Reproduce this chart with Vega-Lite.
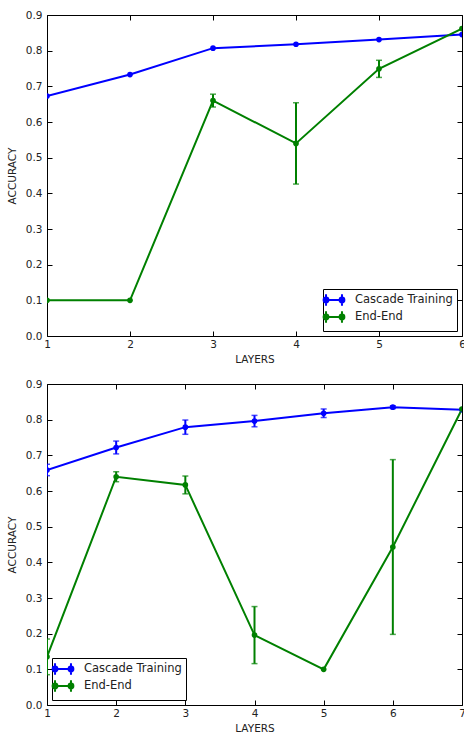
{
  "$schema": "https://vega.github.io/schema/vega-lite/v6.json",
  "padding": {"left": 6, "top": 9, "right": 0, "bottom": 5},
  "config": {
    "font": "DejaVu Sans",
    "view": {"stroke": "black", "strokeWidth": 1},
    "axis": {"grid": false, "domain": false, "tickColor": "black", "tickSize": -5, "tickWidth": 1, "labelFontSize": 10.5, "labelColor": "#222", "titleFontSize": 10.5, "titleFontWeight": "normal", "titleColor": "#222"},
    "axisX": {"labelPadding": 8},
    "axisY": {"labelPadding": 10}
  },
  "datasets": {
    "top": [
      {"layers": 1, "accuracy": 0.673, "err": 0, "series": "Cascade Training"},
      {"layers": 2, "accuracy": 0.733, "err": 0, "series": "Cascade Training"},
      {"layers": 3, "accuracy": 0.807, "err": 0, "series": "Cascade Training"},
      {"layers": 4, "accuracy": 0.818, "err": 0, "series": "Cascade Training"},
      {"layers": 5, "accuracy": 0.831, "err": 0, "series": "Cascade Training"},
      {"layers": 6, "accuracy": 0.845, "err": 0, "series": "Cascade Training"},
      {"layers": 1, "accuracy": 0.1, "err": 0, "series": "End-End"},
      {"layers": 2, "accuracy": 0.1, "err": 0, "series": "End-End"},
      {"layers": 3, "accuracy": 0.66, "err": 0.018, "series": "End-End"},
      {"layers": 4, "accuracy": 0.54, "err": 0.114, "series": "End-End"},
      {"layers": 5, "accuracy": 0.749, "err": 0.024, "series": "End-End"},
      {"layers": 6, "accuracy": 0.862, "err": 0, "series": "End-End"}
    ],
    "bottom": [
      {"layers": 1, "accuracy": 0.659, "err": 0.016, "series": "Cascade Training"},
      {"layers": 2, "accuracy": 0.722, "err": 0.018, "series": "Cascade Training"},
      {"layers": 3, "accuracy": 0.779, "err": 0.02, "series": "Cascade Training"},
      {"layers": 4, "accuracy": 0.796, "err": 0.016, "series": "Cascade Training"},
      {"layers": 5, "accuracy": 0.818, "err": 0.012, "series": "Cascade Training"},
      {"layers": 6, "accuracy": 0.835, "err": 0.004, "series": "Cascade Training"},
      {"layers": 7, "accuracy": 0.828, "err": 0, "series": "Cascade Training"},
      {"layers": 1, "accuracy": 0.135, "err": 0.05, "series": "End-End"},
      {"layers": 2, "accuracy": 0.64, "err": 0.014, "series": "End-End"},
      {"layers": 3, "accuracy": 0.617, "err": 0.025, "series": "End-End"},
      {"layers": 4, "accuracy": 0.196, "err": 0.08, "series": "End-End"},
      {"layers": 5, "accuracy": 0.1, "err": 0, "series": "End-End"},
      {"layers": 6, "accuracy": 0.443, "err": 0.245, "series": "End-End"},
      {"layers": 7, "accuracy": 0.83, "err": 0, "series": "End-End"}
    ]
  },
  "spacing": 12,
  "resolve": {"scale": {"color": "independent"}, "legend": {"color": "independent"}},
  "vconcat": [
    {
      "data": {"name": "top"},
      "width": 415,
      "height": 321,
      "layer": [
        {
          "transform": [{"filter": "datum.err > 0"}],
          "mark": {"type": "errorbar", "thickness": 2, "clip": true, "ticks": {"size": 6, "thickness": 1.5}},
          "encoding": {
            "x": {"field": "layers", "type": "quantitative", "axis": null},
            "y": {"field": "accuracy", "type": "quantitative", "axis": null},
            "yError": {"field": "err"},
            "color": {"field": "series", "type": "nominal"}
          }
        },
        {
          "mark": {"type": "line", "strokeWidth": 2, "clip": true, "point": {"filled": true, "size": 32, "opacity": 1}},
          "encoding": {
            "x": {"field": "layers", "type": "quantitative", "scale": {"domain": [1, 6], "nice": false, "zero": false}, "axis": {"title": "LAYERS", "values": [1, 2, 3, 4, 5, 6], "format": "d", "labelFlush": false, "titlePadding": 5}},
            "y": {"field": "accuracy", "type": "quantitative", "scale": {"domain": [0, 0.9], "nice": false}, "axis": {"title": "ACCURACY", "values": [0, 0.1, 0.2, 0.3, 0.4, 0.5, 0.6, 0.7, 0.8, 0.9], "format": ".1f", "titlePadding": 8, "labelFlush": false}},
            "color": {"field": "series", "type": "nominal", "scale": {"domain": ["Cascade Training", "End-End"], "range": ["#0000ff", "#008000"]},
              "legend": {"title": null, "orient": "bottom-right", "offset": 5, "strokeColor": "black", "fillColor": "white", "padding": 4, "cornerRadius": 0, "labelFontSize": 11.5, "labelColor": "#222", "labelOffset": 14, "rowPadding": -4, "symbolSize": 144, "symbolStrokeWidth": 2,
                "symbolType": "M-1.33,0H1.33M-1.33,-0.95V0.95M1.33,-0.95V0.95M-1.73,0a0.4,0.4 0 1,0 0.8,0a0.4,0.4 0 1,0 -0.8,0M0.93,0a0.4,0.4 0 1,0 0.8,0a0.4,0.4 0 1,0 -0.8,0",
                "encode": {"symbols": {"update": {"fill": {"signal": "datum.label == 'End-End' ? '#008000' : '#0000ff'"}, "stroke": {"signal": "datum.label == 'End-End' ? '#008000' : '#0000ff'"}, "opacity": {"value": 1}}}}}}
          }
        },
        {
          "mark": {"type": "point", "opacity": 0},
          "encoding": {
            "x": {"field": "layers", "type": "quantitative", "axis": {"orient": "top", "labels": false, "title": null, "values": [1, 2, 3, 4, 5, 6]}},
            "y": {"field": "accuracy", "type": "quantitative", "axis": {"orient": "right", "labels": false, "title": null, "values": [0, 0.1, 0.2, 0.3, 0.4, 0.5, 0.6, 0.7, 0.8, 0.9]}}
          }
        }
      ],
      "resolve": {"axis": {"x": "independent", "y": "independent"}}
    },
    {
      "data": {"name": "bottom"},
      "width": 415,
      "height": 321,
      "layer": [
        {
          "transform": [{"filter": "datum.err > 0"}],
          "mark": {"type": "errorbar", "thickness": 2, "clip": true, "ticks": {"size": 6, "thickness": 1.5}},
          "encoding": {
            "x": {"field": "layers", "type": "quantitative", "axis": null},
            "y": {"field": "accuracy", "type": "quantitative", "axis": null},
            "yError": {"field": "err"},
            "color": {"field": "series", "type": "nominal"}
          }
        },
        {
          "mark": {"type": "line", "strokeWidth": 2, "clip": true, "point": {"filled": true, "size": 32, "opacity": 1}},
          "encoding": {
            "x": {"field": "layers", "type": "quantitative", "scale": {"domain": [1, 7], "nice": false, "zero": false}, "axis": {"title": "LAYERS", "values": [1, 2, 3, 4, 5, 6, 7], "format": "d", "labelFlush": false, "titlePadding": 5}},
            "y": {"field": "accuracy", "type": "quantitative", "scale": {"domain": [0, 0.9], "nice": false}, "axis": {"title": "ACCURACY", "values": [0, 0.1, 0.2, 0.3, 0.4, 0.5, 0.6, 0.7, 0.8, 0.9], "format": ".1f", "titlePadding": 8, "labelFlush": false}},
            "color": {"field": "series", "type": "nominal", "scale": {"domain": ["Cascade Training", "End-End"], "range": ["#0000ff", "#008000"]},
              "legend": {"title": null, "orient": "bottom-left", "offset": 5, "strokeColor": "black", "fillColor": "white", "padding": 4, "cornerRadius": 0, "labelFontSize": 11.5, "labelColor": "#222", "labelOffset": 14, "rowPadding": -4, "symbolSize": 144, "symbolStrokeWidth": 2,
                "symbolType": "M-1.33,0H1.33M-1.33,-0.95V0.95M1.33,-0.95V0.95M-1.73,0a0.4,0.4 0 1,0 0.8,0a0.4,0.4 0 1,0 -0.8,0M0.93,0a0.4,0.4 0 1,0 0.8,0a0.4,0.4 0 1,0 -0.8,0",
                "encode": {"symbols": {"update": {"fill": {"signal": "datum.label == 'End-End' ? '#008000' : '#0000ff'"}, "stroke": {"signal": "datum.label == 'End-End' ? '#008000' : '#0000ff'"}, "opacity": {"value": 1}}}}}}
          }
        },
        {
          "mark": {"type": "point", "opacity": 0},
          "encoding": {
            "x": {"field": "layers", "type": "quantitative", "axis": {"orient": "top", "labels": false, "title": null, "values": [1, 2, 3, 4, 5, 6, 7]}},
            "y": {"field": "accuracy", "type": "quantitative", "axis": {"orient": "right", "labels": false, "title": null, "values": [0, 0.1, 0.2, 0.3, 0.4, 0.5, 0.6, 0.7, 0.8, 0.9]}}
          }
        }
      ],
      "resolve": {"axis": {"x": "independent", "y": "independent"}}
    }
  ]
}
